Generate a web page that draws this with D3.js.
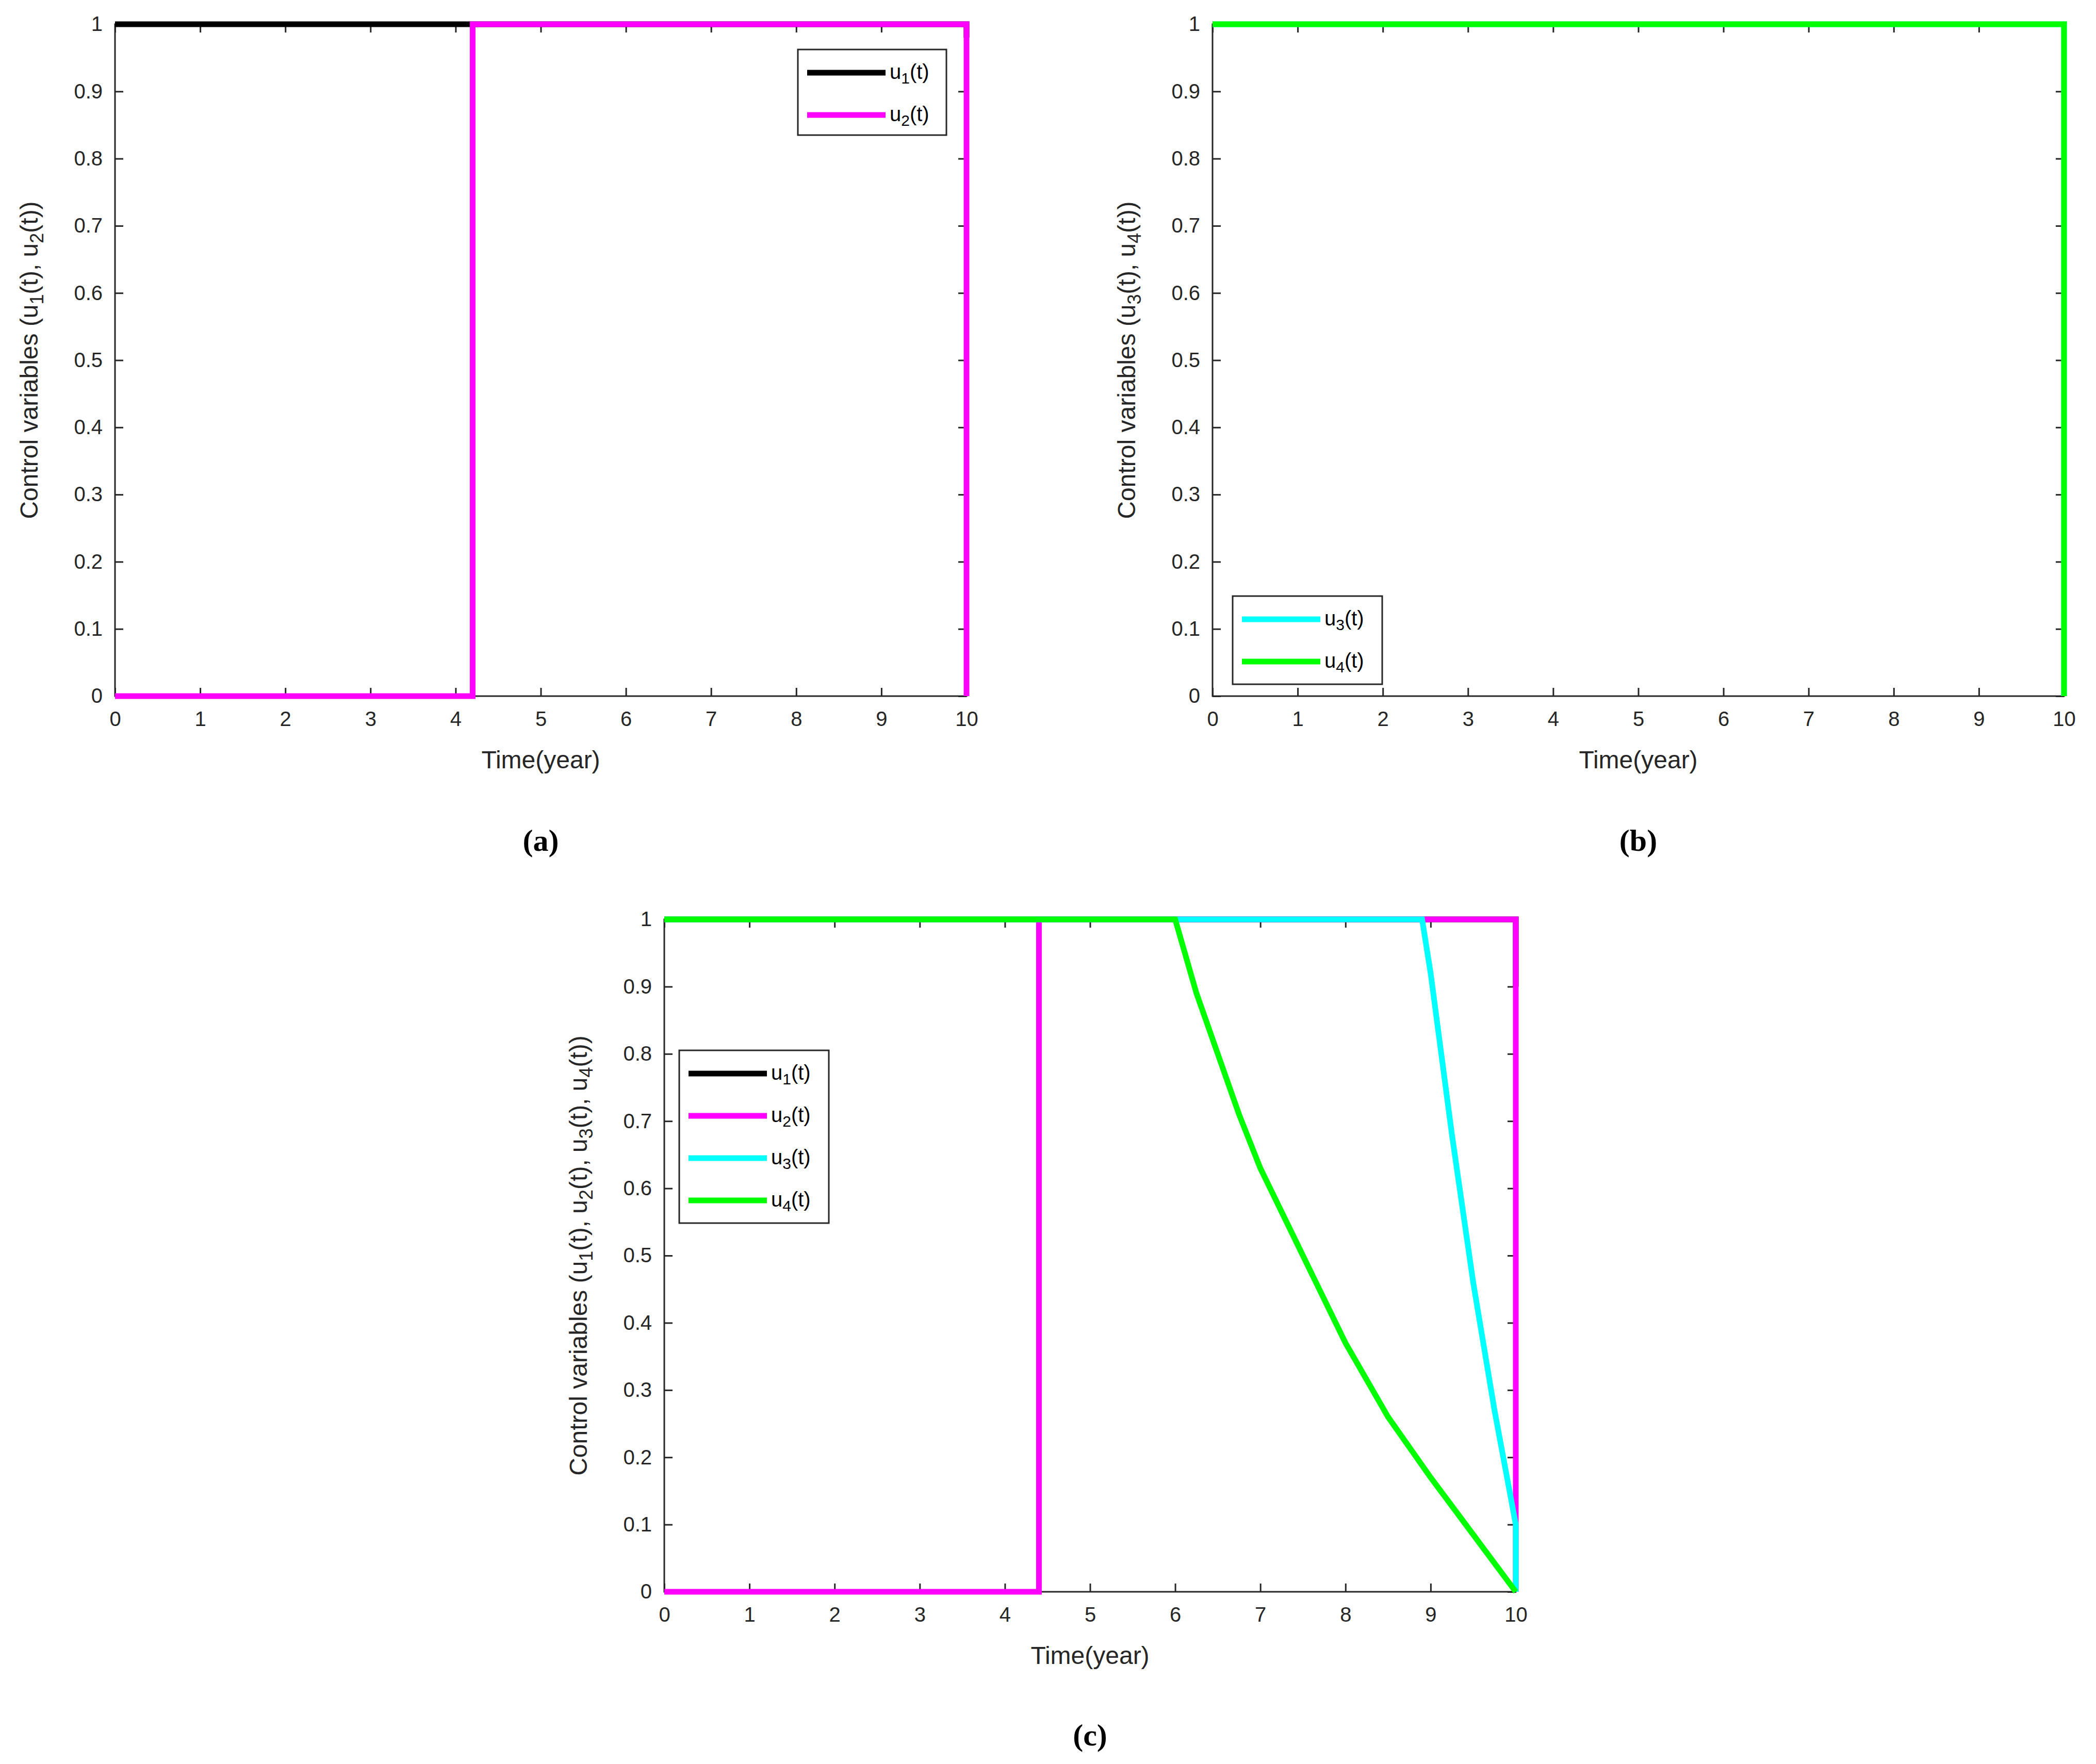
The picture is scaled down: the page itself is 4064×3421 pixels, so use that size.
<!DOCTYPE html><html><head><meta charset="utf-8"><script src="https://cdn.jsdelivr.net/npm/d3@7"></script>
<style>body{margin:0;background:#fff}</style></head><body><script>
const xTicks=[0,1,2,3,4,5,6,7,8,9,10];
const yTicks=[0,0.1,0.2,0.3,0.4,0.5,0.6,0.7,0.8,0.9,1];
const a_u1=[[0,1],[10,1],[10,0.98]];
const a_u2=[[0,0],[4.2,0],[4.2,1],[10,1],[10,0]];
const b_u3=[[0,1],[10,1],[10,0]];
const b_u4=[[0,1],[10,1],[10,0]];
const c_u1=[[0,1],[10,1],[10,0.9]];
const c_u2=[[0,0],[4.4,0],[4.4,1],[10,1],[10,0]];
const c_u3=[[0,1],[8.9,1],[9.0,0.92],[9.25,0.68],[9.5,0.46],[9.75,0.27],[10,0.1],[10,0]];
const c_u4=[[0,1],[6,1],[6.25,0.89],[6.5,0.8],[6.75,0.71],[7,0.63],[7.5,0.5],[8,0.37],[8.5,0.26],[9,0.17],[9.5,0.085],[10,0]];
const colors={u1:"#000",u2:"#ff00ff",u3:"#00ffff",u4:"#00ff00"};
const W=4064,H=3421;
const svg=d3.select("body").append("svg").attr("width",W).attr("height",H).style("font-family","Liberation Sans, Arial, sans-serif");
function sub(t,base,n,after){t.append("tspan").text(base);t.append("tspan").attr("baseline-shift","-30%").attr("font-size","0.75em").text(n);t.append("tspan").text(after);}
function panel(o){
 const g=svg.append("g");
 const x=d3.scaleLinear().domain([0,10]).range([o.x0,o.x1]);
 const y=d3.scaleLinear().domain([0,1]).range([o.y0,o.y1]);
 g.append("rect").attr("x",o.x0).attr("y",o.y1).attr("width",o.x1-o.x0).attr("height",o.y0-o.y1).attr("fill","none").attr("stroke","#262626").attr("stroke-width",3);
 const ax=g.append("g").attr("transform",`translate(0,${o.y0})`).call(d3.axisBottom(x).tickValues(xTicks).tickSize(-16).tickPadding(30));
 const ax2=g.append("g").attr("transform",`translate(0,${o.y1})`).call(d3.axisTop(x).tickValues(xTicks).tickSize(-16).tickFormat(""));
 const ay=g.append("g").attr("transform",`translate(${o.x0},0)`).call(d3.axisLeft(y).tickValues(yTicks).tickSize(-16).tickPadding(24).tickFormat(d=>d===0?"0":d===1?"1":d3.format(".1f")(d)));
 const ay2=g.append("g").attr("transform",`translate(${o.x1},0)`).call(d3.axisRight(y).tickValues(yTicks).tickSize(-16).tickFormat(""));
 [ax,ax2,ay,ay2].forEach(a=>{a.select(".domain").remove();a.selectAll("line").attr("stroke","#262626").attr("stroke-width",3);a.selectAll("text").attr("font-size",40).attr("font-family","Liberation Sans, Arial, sans-serif").attr("fill","#262626");});
 const line=d3.line().x(d=>x(d[0])).y(d=>y(d[1]));
 o.series.forEach(s=>g.append("path").attr("d",line(s.d)).attr("fill","none").attr("stroke",colors[s.k]).attr("stroke-width",11));
 g.append("text").attr("x",(o.x0+o.x1)/2).attr("y",o.y0+140).attr("text-anchor","middle").attr("font-size",48).attr("fill","#262626").text("Time(year)");
 const yl=g.append("text").attr("transform",`translate(${o.x0-150},${(o.y0+o.y1)/2}) rotate(-90)`).attr("text-anchor","middle").attr("font-size",48).attr("fill","#262626");
 yl.append("tspan").text("Control variables (");
 o.ylab.forEach((n,i)=>{yl.append("tspan").text((i?", ":"")+"u");yl.append("tspan").attr("baseline-shift","-30%").attr("font-size","0.75em").text(n);yl.append("tspan").text("(t)");});
 yl.append("tspan").text(")");
 const L=o.leg;
 g.append("rect").attr("x",L.x).attr("y",L.y).attr("width",L.w).attr("height",L.h).attr("fill","#fff").attr("stroke","#262626").attr("stroke-width",3);
 L.items.forEach((k,i)=>{const cy=L.y+45+i*82;
  g.append("line").attr("x1",L.x+18).attr("x2",L.x+170).attr("y1",cy).attr("y2",cy).attr("stroke",colors[k]).attr("stroke-width",11);
  const t=g.append("text").attr("x",L.x+178).attr("y",cy+12).attr("font-size",40).attr("fill","#000");sub(t,"u",k.slice(1),"(t)");});
 g.append("text").attr("x",(o.x0+o.x1)/2).attr("y",o.capY).attr("text-anchor","middle").attr("font-size",60).attr("font-weight","bold").attr("font-family","Liberation Serif, serif").text(o.cap);
}
panel({x0:223,x1:1874,y0:1350,y1:47,capY:1650,cap:"(a)",ylab:["1","2"],
 series:[{k:"u1",d:a_u1},{k:"u2",d:a_u2}],leg:{x:1547,y:96,w:288,h:166,items:["u1","u2"]}});
panel({x0:2351,x1:4002,y0:1350,y1:47,capY:1650,cap:"(b)",ylab:["3","4"],
 series:[{k:"u3",d:b_u3},{k:"u4",d:b_u4}],leg:{x:2390,y:1156,w:290,h:171,items:["u3","u4"]}});
panel({x0:1288,x1:2939,y0:3087,y1:1783,capY:3385,cap:"(c)",ylab:["1","2","3","4"],
 series:[{k:"u1",d:c_u1},{k:"u2",d:c_u2},{k:"u3",d:c_u3},{k:"u4",d:c_u4}],leg:{x:1317,y:2037,w:290,h:335,items:["u1","u2","u3","u4"]}});
</script></body></html>
